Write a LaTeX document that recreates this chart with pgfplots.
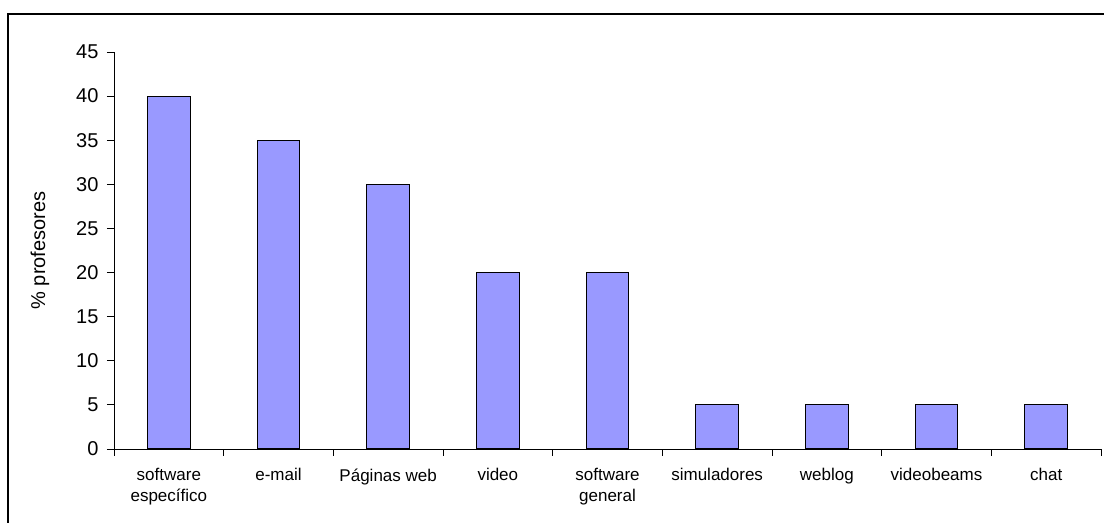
\documentclass[border=0pt]{standalone}
\usepackage{pgfplots}
\pgfplotsset{compat=1.18}
\usepackage{fontspec}
\setmainfont{Liberation Sans}
\definecolor{barfill}{RGB}{153,153,255}

\begin{document}
\begin{tikzpicture}
\begin{axis}[
  at={(114bp,74bp)}, anchor=south west,
  scale only axis,
  width=987bp, height=397bp,
  xmin=-0.5, xmax=8.5,
  ymin=0, ymax=45,
  axis x line=bottom, axis y line=left,
  axis line style={-, black, line width=0.9pt},
  ytick={0,5,...,45},
  xtick={0,...,8},
  xticklabels={software\\específico, e-mail, Páginas web, video, software\\general, simuladores, weblog, videobeams, chat},
  x tick label style={align=center, font=\fontsize{17bp}{21bp}\selectfont, anchor=north, yshift=-9bp},
  major x tick style={draw=none},
  minor xtick={-0.5,0.5,...,8.5},
  y tick label style={font=\fontsize{20bp}{24bp}\selectfont, xshift=-5bp},
  /pgf/number format/assume math mode=true,
  tick align=outside,
  tick style={black, line width=0.9pt},
  major tick length=7bp, minor tick length=7bp,
  ylabel={\% profesores},
  every axis y label/.style={at={(rel axis cs:0,0.5)}, xshift=-74bp, rotate=90,
    anchor=center, font=\fontsize{20bp}{24bp}\selectfont},
  ybar, bar width=0.39,
  clip=false,
]
\addplot[fill=barfill, draw=black, line width=1.2pt] coordinates {
  (0,40) (1,35) (2,30) (3,20) (4,20) (5,5) (6,5) (7,5) (8,5)
};
\end{axis}
% outer chart frame
\draw[black, line width=2bp] (8.3bp,509.2bp) rectangle (1120bp,-20bp);
\pgfresetboundingbox
\useasboundingbox (0,0) rectangle (1104bp,523bp);
\end{tikzpicture}
\end{document}
